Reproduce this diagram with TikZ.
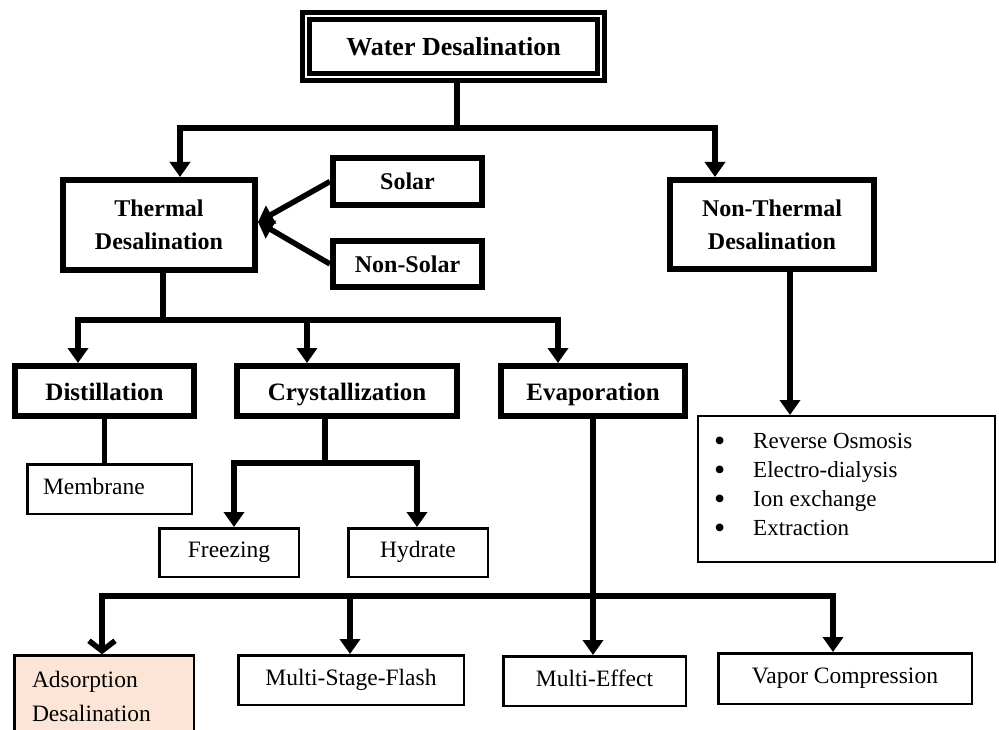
\documentclass[tikz,border=0pt]{standalone}
\usepackage{fontspec}
\setmainfont{Liberation Serif}
\usetikzlibrary{arrows.meta}
\definecolor{peach}{RGB}{252,229,214}
\newcommand{\listdot}{\makebox[39pt][l]{\raisebox{-2.5pt}{\fontsize{32}{29}\selectfont\textbullet}}}

\begin{document}
\begin{tikzpicture}[x=1pt,y=-1pt,
  thickbox/.style={draw, line width=6pt, rectangle, inner sep=0pt, align=center,
    font=\fontsize{24}{33}\selectfont\bfseries},
  midbox/.style={thickbox, font=\fontsize{25}{30}\selectfont\bfseries,
    text height=18pt, text depth=0pt},
  thinbox/.style={draw, line width=2.5pt, rectangle, inner sep=0pt,
    font=\fontsize{23.5}{34}\selectfont},
  oneline/.style={text height=16pt, text depth=6pt},
  conn/.style={line width=5.5pt},
  arr/.style={conn, -{Triangle[length=15pt,width=20pt]}},
  barb/.style={conn, -{Straight Barb[length=10pt,width=26pt]}},
]
\useasboundingbox (0,0) rectangle (999,730);
\clip (0,0) rectangle (999,730);
\fill[white] (0,0) rectangle (999,730);

% ---- boxes ----
\node[draw, line width=5pt, double=white, double distance=2pt,
      minimum width=295, minimum height=61, inner sep=0pt,
      font=\fontsize{26}{30}\selectfont\bfseries] (water) at (453.5,46.5) {Water Desalination};

\node[thickbox, minimum width=192, minimum height=90] (thermal) at (159,225) {Thermal\\Desalination};
\node[thickbox, minimum width=204, minimum height=89] (nonthermal) at (772,224.5) {Non-Thermal\\Desalination};
\node[thickbox, minimum width=149, minimum height=47] (solar) at (407.5,181.5) {Solar};
\node[thickbox, minimum width=149, minimum height=46] (nonsolar) at (407.5,264) {Non-Solar};

\node[midbox, minimum width=179, minimum height=50] (dist) at (104.5,391) {Distillation};
\node[midbox, minimum width=220, minimum height=50] (cryst) at (347,391) {Crystallization};
\node[midbox, minimum width=184, minimum height=50] (evap) at (593,391) {Evaporation};

\node[thinbox, oneline, text width=133, align=left, inner xsep=15.75pt, minimum height=49.5] (membrane) at (109.5,489) {Membrane};
\node[thinbox, oneline, minimum width=139.5, minimum height=48.5] (freezing) at (229,552.5) {Freezing};
\node[thinbox, oneline, minimum width=139.5, minimum height=48.5] (hydrate) at (418,552.5) {Hydrate};

\node[thinbox, line width=2pt, minimum width=297, minimum height=146] (list) at (846.5,489) {};
\node[anchor=north west, inner sep=0pt, font=\fontsize{23}{29}\selectfont] (listitems) at (714,428)
  {\begin{tabular}{@{}l@{}l@{}}
   \listdot & Reverse Osmosis\\
   \listdot & Electro-dialysis\\
   \listdot & Ion exchange\\
   \listdot & Extraction
   \end{tabular}};

\node[thinbox, fill=peach, text width=144, align=left, inner xsep=17.75pt, inner ysep=16pt,
      anchor=north] (adsorption) at (104,654.25) {Adsorption\\Desalination};
\node[thinbox, oneline, minimum width=225.5, minimum height=49.5] (msf) at (351,680) {Multi-Stage-Flash};
\node[thinbox, oneline, minimum width=182.5, minimum height=49.5] (mef) at (594.5,681) {Multi-Effect};
\node[thinbox, oneline, minimum width=253.5, minimum height=50.5] (vc) at (845,678.5) {Vapor Compression};

% ---- connectors ----
\coordinate (wd) at (457,128);
\coordinate (ta) at (180,128);
\coordinate (tb) at (715,128);
\draw[conn] (water.south -| wd) -- (wd);
\draw[arr] (wd) -- (ta) -- (ta |- thermal.north);
\draw[arr] (wd) -- (tb) -- (tb |- nonthermal.north);

\draw[arr] (solar.west) -- ([yshift=3pt]thermal.east);
\draw[arr] (nonsolar.west) -- ([yshift=3pt]thermal.east);

\coordinate (tj) at (163,320);
\coordinate (d1) at (78,320);
\coordinate (c1) at (307,320);
\coordinate (e1) at (558,320);
\draw[conn] (thermal.south -| tj) -- (tj);
\draw[arr] (tj) -- (d1) -- (d1 |- dist.north);
\draw[arr] (tj) -- (c1) -- (c1 |- cryst.north);
\draw[arr] (tj) -- (e1) -- (e1 |- evap.north);

\draw[conn] (dist.south) -- (dist.south |- membrane.north);

\coordinate (cj) at (325,463);
\coordinate (f1) at (234,463);
\coordinate (h1) at (417,463);
\draw[conn] (cryst.south -| cj) -- (cj);
\draw[arr] (cj) -- (f1) -- (f1 |- freezing.north);
\draw[arr] (cj) -- (h1) -- (h1 |- hydrate.north);

\coordinate (ej) at (593,596);
\coordinate (a1) at (102,596);
\coordinate (m1) at (350,596);
\coordinate (v1) at (833,596);
\draw[arr] (evap.south) -- (evap.south |- mef.north);
\draw[barb] (ej) -- (a1) -- (a1 |- adsorption.north);
\draw[arr] (ej) -- (m1) -- (m1 |- msf.north);
\draw[arr] (ej) -- (v1) -- (v1 |- vc.north);

\coordinate (nx) at (790,300);
\draw[arr] (nonthermal.south -| nx) -- (list.north -| nx);
\end{tikzpicture}
\end{document}
